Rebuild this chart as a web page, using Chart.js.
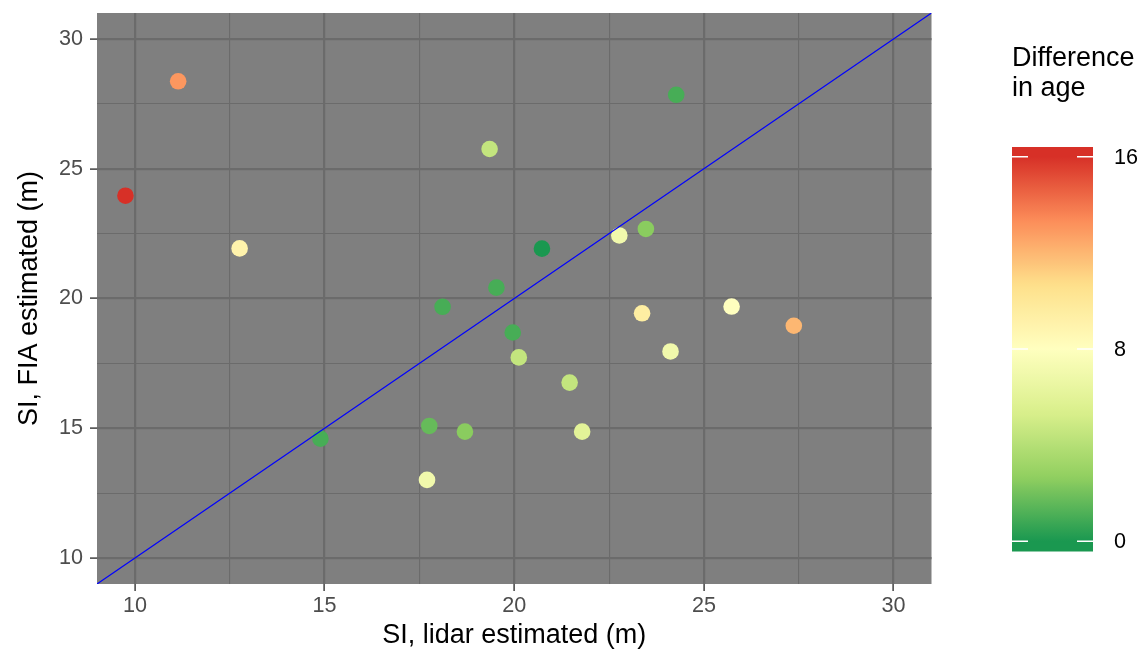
<!DOCTYPE html>
<html>
<head>
<meta charset="utf-8">
<script src="https://cdn.jsdelivr.net/npm/chart.js@4"></script>
<style>
  html, body { margin: 0; padding: 0; background: #fff; }
  #wrap { width: 1144px; height: 653px; position: relative; }
</style>
</head>
<body>
<div id="wrap"><canvas id="myChart"></canvas></div>
<script>
// site index, lidar vs FIA, coloured by difference in age
const lidarSI = [9.75, 11.14, 12.76, 24.27, 19.35, 20.73, 22.77, 23.47, 19.53, 18.11, 19.96,
                 20.12, 23.37, 24.12, 21.46, 17.76, 18.70, 21.79, 17.70, 25.73, 27.37, 14.89];
const fiaSI = [23.96, 28.37, 21.93, 27.85, 25.76, 21.92, 22.43, 22.68, 20.42, 19.68, 18.69,
               17.73, 19.43, 17.96, 16.76, 15.09, 14.87, 14.87, 13.01, 19.69, 18.95, 14.60];
const ageDiff = [16, 13, 9, 1, 4.5, 0, 7, 2.5, 1, 1, 1,
                 4.5, 9.5, 7, 4.5, 1.7, 2.5, 6, 7, 8, 12, 1];

const xBreaks = [10, 12.5, 15, 17.5, 20, 22.5, 25, 27.5, 30];
const yBreaks = [10, 12.5, 15, 17.5, 20, 22.5, 25, 27.5, 30];
const oneToOne = [9, 31];
const legendBreaks = [0, 8, 16];

const palette = ['#1a9850', '#91cf60', '#d9ef8b', '#ffffbf', '#fee08b', '#fc8d59', '#d73027'];
const ageMin = 0, ageMax = 16;

function hexRgb(h) {
    return [parseInt(h.slice(1, 3), 16), parseInt(h.slice(3, 5), 16), parseInt(h.slice(5, 7), 16)];
}
function ageColour(v) {
    let t = (v - ageMin) / (ageMax - ageMin);
    t = Math.max(0, Math.min(1, t)) * (palette.length - 1);
    const i = Math.min(Math.floor(t), palette.length - 2);
    const f = t - i;
    const a = hexRgb(palette[i]), b = hexRgb(palette[i + 1]);
    const c = a.map((x, k) => Math.round(x + (b[k] - x) * f));
    return `rgb(${c[0]}, ${c[1]}, ${c[2]})`;
}

const points = lidarSI.map((x, i) => ({ x: x, y: fiaSI[i] }));
const pointColours = ageDiff.map(ageColour);

const isMajor = v => v % 5 === 0;

const panelBg = {
    id: 'panelBg',
    beforeDraw(chart) {
        const { ctx, chartArea: a } = chart;
        ctx.save();
        ctx.fillStyle = '#7f7f7f';
        ctx.fillRect(a.left, a.top, a.right - a.left, a.bottom - a.top);
        ctx.restore();
    }
};

// colour bar legend
const colourBar = {
    id: 'colourBar',
    afterDraw(chart) {
        const ctx = chart.ctx;
        const barL = 1012, barR = 1093, barT = 147, barB = 551.5;
        const yTop = 156.7, yBot = 541.2;
        const yOf = v => yBot - (v - ageMin) / (ageMax - ageMin) * (yBot - yTop);
        ctx.save();
        ctx.fillStyle = '#000';
        ctx.font = '27px "Liberation Sans", Arial, sans-serif';
        ctx.textAlign = 'left';
        ctx.textBaseline = 'alphabetic';
        ctx.fillText('Difference', 1012, 66);
        ctx.fillText('in age', 1012, 95.5);

        const g = ctx.createLinearGradient(0, yBot, 0, yTop);
        for (let s = 0; s <= 64; s++) {
            g.addColorStop(s / 64, ageColour(ageMin + (ageMax - ageMin) * s / 64));
        }
        ctx.fillStyle = g;
        ctx.fillRect(barL, barT, barR - barL, barB - barT);

        ctx.strokeStyle = '#fff';
        ctx.lineWidth = 1.5;
        ctx.font = '21.6px "Liberation Sans", Arial, sans-serif';
        ctx.textBaseline = 'middle';
        legendBreaks.forEach(v => {
            const y = yOf(v);
            ctx.beginPath();
            ctx.moveTo(barL, y); ctx.lineTo(barL + 16, y);
            ctx.moveTo(barR - 16, y); ctx.lineTo(barR, y);
            ctx.stroke();
            ctx.fillStyle = '#000';
            ctx.fillText(String(v), 1114, y + 1);
        });
        ctx.restore();
    }
};

const tickFont = { family: '"Liberation Sans", Arial, sans-serif', size: 21.6 };
const titleFont = { family: '"Liberation Sans", Arial, sans-serif', size: 27 };

function gridOpts() {
    return {
        color: '#6b6b6b',
        lineWidth: c => isMajor(c.tick.value) ? 2.2 : 1.1,
        drawTicks: true,
        tickLength: 7,
        tickWidth: 1.4,
        tickColor: c => isMajor(c.tick.value) ? '#333333' : 'rgba(0,0,0,0)'
    };
}

var ctx = document.getElementById('myChart').getContext('2d');
var myChart = new Chart(ctx, {
    type: 'scatter',
    data: {
        datasets: [{
            type: 'line',
            data: oneToOne.map(v => ({ x: v, y: v })),
            borderColor: '#0000ff',
            borderWidth: 1.2,
            pointRadius: 0,
            fill: false,
            order: 0
        }, {
            data: points,
            pointBackgroundColor: pointColours,
            pointBorderColor: pointColours,
            pointBorderWidth: 0,
            pointRadius: 8.3,
            order: 1
        }]
    },
    options: {
        responsive: true,
        maintainAspectRatio: false,
        animation: false,
        devicePixelRatio: 1,
        layout: { padding: { left: 0, top: 13, right: 212.5, bottom: 0 } },
        plugins: { legend: { display: false }, tooltip: { enabled: false } },
        scales: {
            x: {
                type: 'linear',
                min: 9, max: 31,
                afterBuildTicks: s => { s.ticks = xBreaks.map(v => ({ value: v })); },
                afterFit: s => { s.height = 69; s.paddingLeft = 0; s.paddingRight = 0; },
                ticks: {
                    autoSkip: false, maxRotation: 0, padding: 2,
                    color: '#4d4d4d', font: tickFont,
                    callback: v => isMajor(v) ? String(v) : ''
                },
                grid: gridOpts(),
                border: { display: false },
                title: {
                    display: true, text: 'SI, lidar estimated (m)',
                    color: '#000', font: titleFont, padding: { top: 0, bottom: 1 }
                }
            },
            y: {
                type: 'linear',
                min: 9, max: 31,
                afterBuildTicks: s => { s.ticks = yBreaks.map(v => ({ value: v })); },
                afterFit: s => { s.width = 97; s.paddingTop = 0; s.paddingBottom = 0; },
                ticks: {
                    autoSkip: false, padding: 7,
                    color: '#4d4d4d', font: tickFont,
                    callback: v => isMajor(v) ? String(v) : ''
                },
                grid: gridOpts(),
                border: { display: false },
                title: {
                    display: true, text: 'SI, FIA estimated (m)',
                    color: '#000', font: titleFont, padding: { top: 13, bottom: 0 }
                }
            }
        }
    },
    plugins: [panelBg, colourBar]
});
</script>
</body>
</html>
